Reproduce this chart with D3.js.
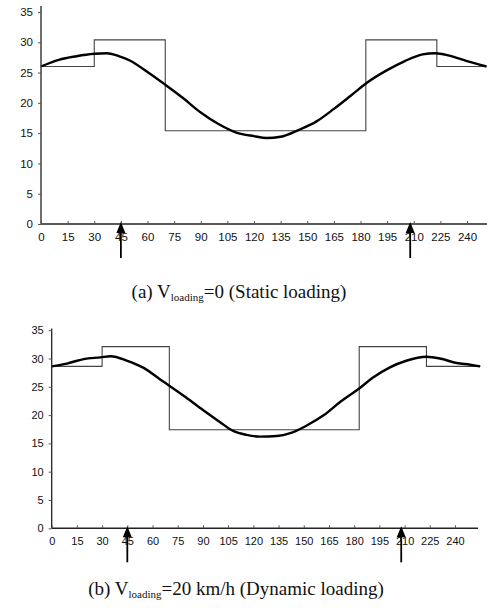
<!DOCTYPE html>
<html>
<head>
<meta charset="utf-8">
<script src="https://cdn.jsdelivr.net/npm/d3@7"></script>
<style>
	html, body { margin: 0; padding: 0; background: #fff; }
	svg { display: block; }
</style>
</head>
<body>
<div id="graphic"></div>
<script>

// ---- data ---------------------------------------------------------

const xTicks = [ 0, 15, 30, 45, 60, 75, 90, 105, 120, 135, 150, 165, 180, 195, 210, 225, 240 ];
const yTicks = [ 0, 5, 10, 15, 20, 25, 30, 35 ];
const arrowsAt = [ 45, 208 ];

// (a) static loading
const staticStepX = [ 0, 30, 70, 183, 223, 251 ];
const staticStepY = [ 26.0, 30.4, 15.4, 30.4, 26.0 ];
const staticPos = [ 0, 10, 20, 30, 37, 45, 50, 60, 70, 80, 90, 100, 110, 120, 127, 135, 145, 155, 165, 175, 184, 195, 205, 215, 222, 230, 240, 251 ];
const staticVal = [ 26.0, 27.1, 27.7, 28.1, 28.2, 27.6, 27.0, 25.1, 23.0, 20.8, 18.4, 16.5, 15.1, 14.5, 14.2, 14.4, 15.5, 16.9, 19.0, 21.3, 23.4, 25.4, 26.9, 28.0, 28.2, 27.8, 26.9, 26.0 ];

// (b) dynamic loading
const dynStepX = [ 0, 30, 70, 183, 223, 255 ];
const dynStepY = [ 28.6, 32.1, 17.4, 32.1, 28.6 ];
const dynPos = [ 0, 9, 19, 29, 35, 45, 55, 65, 70, 80, 90, 100, 108, 116, 124, 134, 142, 152, 162, 172, 183, 191, 201, 211, 223, 231, 241, 249, 255 ];
const dynVal = [ 28.6, 29.1, 29.9, 30.2, 30.4, 29.6, 28.3, 26.2, 25.2, 23.1, 20.9, 18.8, 17.2, 16.5, 16.2, 16.3, 16.8, 18.2, 20.0, 22.4, 24.7, 26.6, 28.4, 29.6, 30.3, 30.0, 29.2, 28.9, 28.6 ];

///////////////////////////////////////////////////////////////////////

const width = 487, height = 608;

let svg = d3.select( "#graphic" )
	.append( "svg" )
		.attr( "width", width )
		.attr( "height", height )
		.attr( "viewBox", [ 0, 0, width, height ] );

draw_panel( svg, {
	x: d3.scaleLinear().domain( [ 0, 240 ] ).range( [ 41, 467 ] ),
	y: d3.scaleLinear().domain( [ 0, 35 ] ).range( [ 224, 12 ] ),
	xEnd: 487, yTop: 36,
	stepX: staticStepX, stepY: staticStepY,
	pos: staticPos, val: staticVal,
	font: 11.5,
	caption: [ "(a) V", "loading", "=0 (Static loading)" ],
	capX: 239, capY: 298
} );

draw_panel( svg, {
	x: d3.scaleLinear().domain( [ 0, 240 ] ).range( [ 51.7, 455 ] ),
	y: d3.scaleLinear().domain( [ 0, 35 ] ).range( [ 528.3, 330.2 ] ),
	xEnd: 478, yTop: 35.3,
	stepX: dynStepX, stepY: dynStepY,
	pos: dynPos, val: dynVal,
	font: 11,
	caption: [ "(b) V", "loading", "=20 km/h (Dynamic loading)" ],
	capX: 236, capY: 595
} );

///////////////////////////////////////////////////////////////////////

function draw_panel( svg, p )	{

	let g = svg.append( "g" );
	let x0 = p.x( 0 ), y0 = p.y( 0 );

	// step (applied load)
	let steps = p.stepX.map( ( v, i ) => [ v, i < p.stepY.length ? p.stepY[ i ] : p.stepY[ p.stepY.length - 1 ] ] );
	g.append( "path" )
		.datum( steps )
		.attr( "fill", "none" )
		.attr( "stroke", "#444" )
		.attr( "stroke-width", 1.1 )
		.attr( "d", d3.line()
			.curve( d3.curveStepAfter )
			.x( d => p.x( d[ 0 ] ) )
			.y( d => p.y( d[ 1 ] ) ) );

	// smooth curve
	g.append( "path" )
		.datum( p.pos.map( ( v, i ) => [ v, p.val[ i ] ] ) )
		.attr( "fill", "none" )
		.attr( "stroke", "#000" )
		.attr( "stroke-width", 2.4 )
		.attr( "stroke-linejoin", "round" )
		.attr( "d", d3.line()
			.curve( d3.curveMonotoneX )
			.x( d => p.x( d[ 0 ] ) )
			.y( d => p.y( d[ 1 ] ) ) );

	// axes
	g.append( "line" )
		.attr( "x1", x0 ).attr( "y1", y0 )
		.attr( "x2", x0 ).attr( "y2", p.y( p.yTop ) )
		.attr( "stroke", "#222" ).attr( "stroke-width", 1.3 );
	g.append( "line" )
		.attr( "x1", x0 ).attr( "y1", y0 )
		.attr( "x2", p.xEnd ).attr( "y2", y0 )
		.attr( "stroke", "#222" ).attr( "stroke-width", 1.5 );

	let yax = g.append( "g" )
		.attr( "transform", `translate(${ x0 },0)` )
		.call( d3.axisLeft( p.y ).tickValues( yTicks ).tickSize( 3 ).tickPadding( 5 ) );
	yax.select( ".domain" ).remove();

	let xax = g.append( "g" )
		.attr( "transform", `translate(0,${ y0 })` )
		.call( d3.axisBottom( p.x ).tickValues( xTicks ).tickSize( -3 ).tickPadding( 9 ) );
	xax.select( ".domain" ).remove();

	[ yax, xax ].forEach( a => {
		a.selectAll( "text" )
			.attr( "font-family", "'Liberation Sans', Arial, sans-serif" )
			.attr( "font-size", p.font )
			.attr( "fill", "#111" );
		a.selectAll( "line" )
			.attr( "stroke", "#555" );
	} );

	// arrows under the axis
	arrowsAt.forEach( v => {
		let ax = p.x( v ), tip = y0 - 2;
		g.append( "line" )
			.attr( "x1", ax ).attr( "y1", tip + 8 )
			.attr( "x2", ax ).attr( "y2", tip + 36 )
			.attr( "stroke", "#000" ).attr( "stroke-width", 1.8 );
		g.append( "path" )
			.attr( "d", `M${ ax },${ tip } L${ ax - 4.5 },${ tip + 11 } L${ ax + 4.5 },${ tip + 11 } Z` )
			.attr( "fill", "#000" );
	} );

	// caption
	let cap = g.append( "text" )
		.attr( "x", p.capX )
		.attr( "y", p.capY )
		.attr( "text-anchor", "middle" )
		.attr( "font-family", "'Liberation Serif', 'Times New Roman', serif" )
		.attr( "font-size", 19 )
		.attr( "fill", "#111" );
	cap.append( "tspan" ).text( p.caption[ 0 ] );
	cap.append( "tspan" ).attr( "dy", 3 ).attr( "font-size", 11 ).text( p.caption[ 1 ] );
	cap.append( "tspan" ).attr( "dy", -3 ).text( p.caption[ 2 ] );
}

</script>
</body>
</html>
